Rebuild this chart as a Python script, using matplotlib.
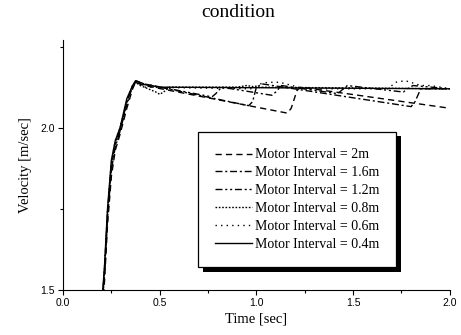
import matplotlib
matplotlib.use("Agg")
import matplotlib.pyplot as plt
from matplotlib.patches import Rectangle
from matplotlib.ticker import MultipleLocator, FormatStrFormatter

# rise part shared by all runs (time, sec)
t_rise = [0.20, 0.215, 0.23, 0.25, 0.27, 0.295, 0.33, 0.36, 0.375]

# Motor Interval = 2m
t_2m = t_rise + [0.42, 1.16, 1.18, 1.21, 1.23, 2.00]
v_2m = [1.42, 1.53, 1.70, 1.85, 1.93, 1.98, 2.06, 2.12, 2.14] + [2.13, 2.045, 2.06, 2.115, 2.125, 2.06]

# Motor Interval = 1.6m
t_16 = t_rise + [0.42, 0.96, 0.98, 1.00, 1.03, 1.80, 1.82, 1.85, 2.00]
v_16 = [1.43, 1.55, 1.72, 1.87, 1.94, 1.99, 2.07, 2.13, 2.145] + [2.135, 2.068, 2.08, 2.125, 2.135, 2.065, 2.08, 2.12, 2.12]

# Motor Interval = 1.2m
t_12 = t_rise + [0.42, 0.77, 0.79, 0.82, 1.08, 1.10, 1.13, 1.42, 1.44, 1.47, 1.76, 1.78, 1.81, 2.00]
v_12 = [1.44, 1.56, 1.73, 1.88, 1.95, 1.99, 2.08, 2.13, 2.145] + [2.135, 2.095, 2.105, 2.125, 2.10, 2.11, 2.13, 2.105, 2.115, 2.13, 2.11, 2.12, 2.13, 2.12]

# Motor Interval = 0.8m
t_08 = t_rise + [0.40, 0.48, 0.50, 0.52, 0.55, 0.90, 0.95, 1.00, 2.00]
v_08 = [1.44, 1.57, 1.74, 1.89, 1.95, 2.00, 2.08, 2.13, 2.14] + [2.13, 2.11, 2.103, 2.11, 2.125, 2.125, 2.13, 2.125, 2.12]

# Motor Interval = 0.6m
t_06 = t_rise + [0.42, 0.97, 1.02, 1.06, 1.12, 1.25, 1.68, 1.72, 1.77, 1.85, 1.90, 1.95, 2.00]
v_06 = [1.45, 1.57, 1.74, 1.89, 1.96, 2.00, 2.08, 2.13, 2.14] + [2.125, 2.12, 2.135, 2.14, 2.14, 2.12, 2.12, 2.14, 2.145, 2.13, 2.13, 2.125, 2.12]

# Motor Interval = 0.4m
t_04 = t_rise + [0.40, 0.50, 2.00]
v_04 = [1.45, 1.58, 1.75, 1.90, 1.96, 2.00, 2.09, 2.13, 2.14] + [2.135, 2.125, 2.12]

labels = ["Motor Interval = 2m", "Motor Interval = 1.6m", "Motor Interval = 1.2m",
          "Motor Interval = 0.8m", "Motor Interval = 0.6m", "Motor Interval = 0.4m"]
styles = [(0, (4.5, 3)), (0, (5, 2, 1.5, 2)), (0, (5, 2, 1.5, 2, 1.5, 2)),
          (0, (1.2, 1.2)), (0, (1, 3)), "-"]

serif = ["Liberation Serif", "DejaVu Serif"]
sans = ["Liberation Sans", "DejaVu Sans"]

fig = plt.figure(figsize=(4.61, 3.35), dpi=100)
ax = fig.add_axes([0.1367, 0.1343, 0.839, 0.746])

series = [(t_2m, v_2m), (t_16, v_16), (t_12, v_12), (t_08, v_08), (t_06, v_06), (t_04, v_04)]
for (t, v), lab, ls in zip(series, labels, styles):
    ax.plot(t, v, color="black", lw=1.0, ls=ls, label=lab)

ax.set_xlim(0, 2.0)
ax.set_ylim(1.5, 2.27)
ax.xaxis.set_major_locator(MultipleLocator(0.5))
ax.xaxis.set_minor_locator(MultipleLocator(0.25))
ax.yaxis.set_major_locator(MultipleLocator(0.5))
ax.yaxis.set_minor_locator(MultipleLocator(0.25))
ax.xaxis.set_major_formatter(FormatStrFormatter("%.1f"))
ax.yaxis.set_major_formatter(FormatStrFormatter("%.1f"))
ax.tick_params(which="major", direction="out", length=3.5, width=0.8, labelsize=7.5, pad=2.5)
ax.tick_params(which="minor", direction="out", length=2, width=0.8)
for lab in ax.get_xticklabels() + ax.get_yticklabels():
    lab.set_family(sans)
ax.spines["top"].set_visible(False)
ax.spines["right"].set_visible(False)

ax.set_xlabel("Time [sec]", family=serif, fontsize=10.5, labelpad=3)
ax.set_ylabel("Velocity [m/sec]", family=serif, fontsize=10.5, labelpad=6)
fig.text(0.516, 0.964, "condition", family=serif, fontsize=14, ha="center", va="center")

leg = ax.legend(loc="center", bbox_to_anchor=(0.605, 0.362), frameon=True,
                fancybox=False, framealpha=1, edgecolor="black",
                prop={"family": serif, "size": 10}, handlelength=2.7,
                handletextpad=0.2, labelspacing=0.35, borderpad=1.2)
leg.get_frame().set_linewidth(0.9)

# black drop shadow behind the legend box
fig.canvas.draw()
bb = leg.get_window_extent().transformed(ax.transAxes.inverted())
off_x = 4.5 / (0.839 * 461)
off_y = 4.5 / (0.746 * 335)
ax.add_patch(Rectangle((bb.x0 + off_x, bb.y0 - off_y), bb.width, bb.height,
                       transform=ax.transAxes, facecolor="black", edgecolor="none",
                       zorder=4.9, clip_on=False))

fig.savefig("out.png", dpi=100)
